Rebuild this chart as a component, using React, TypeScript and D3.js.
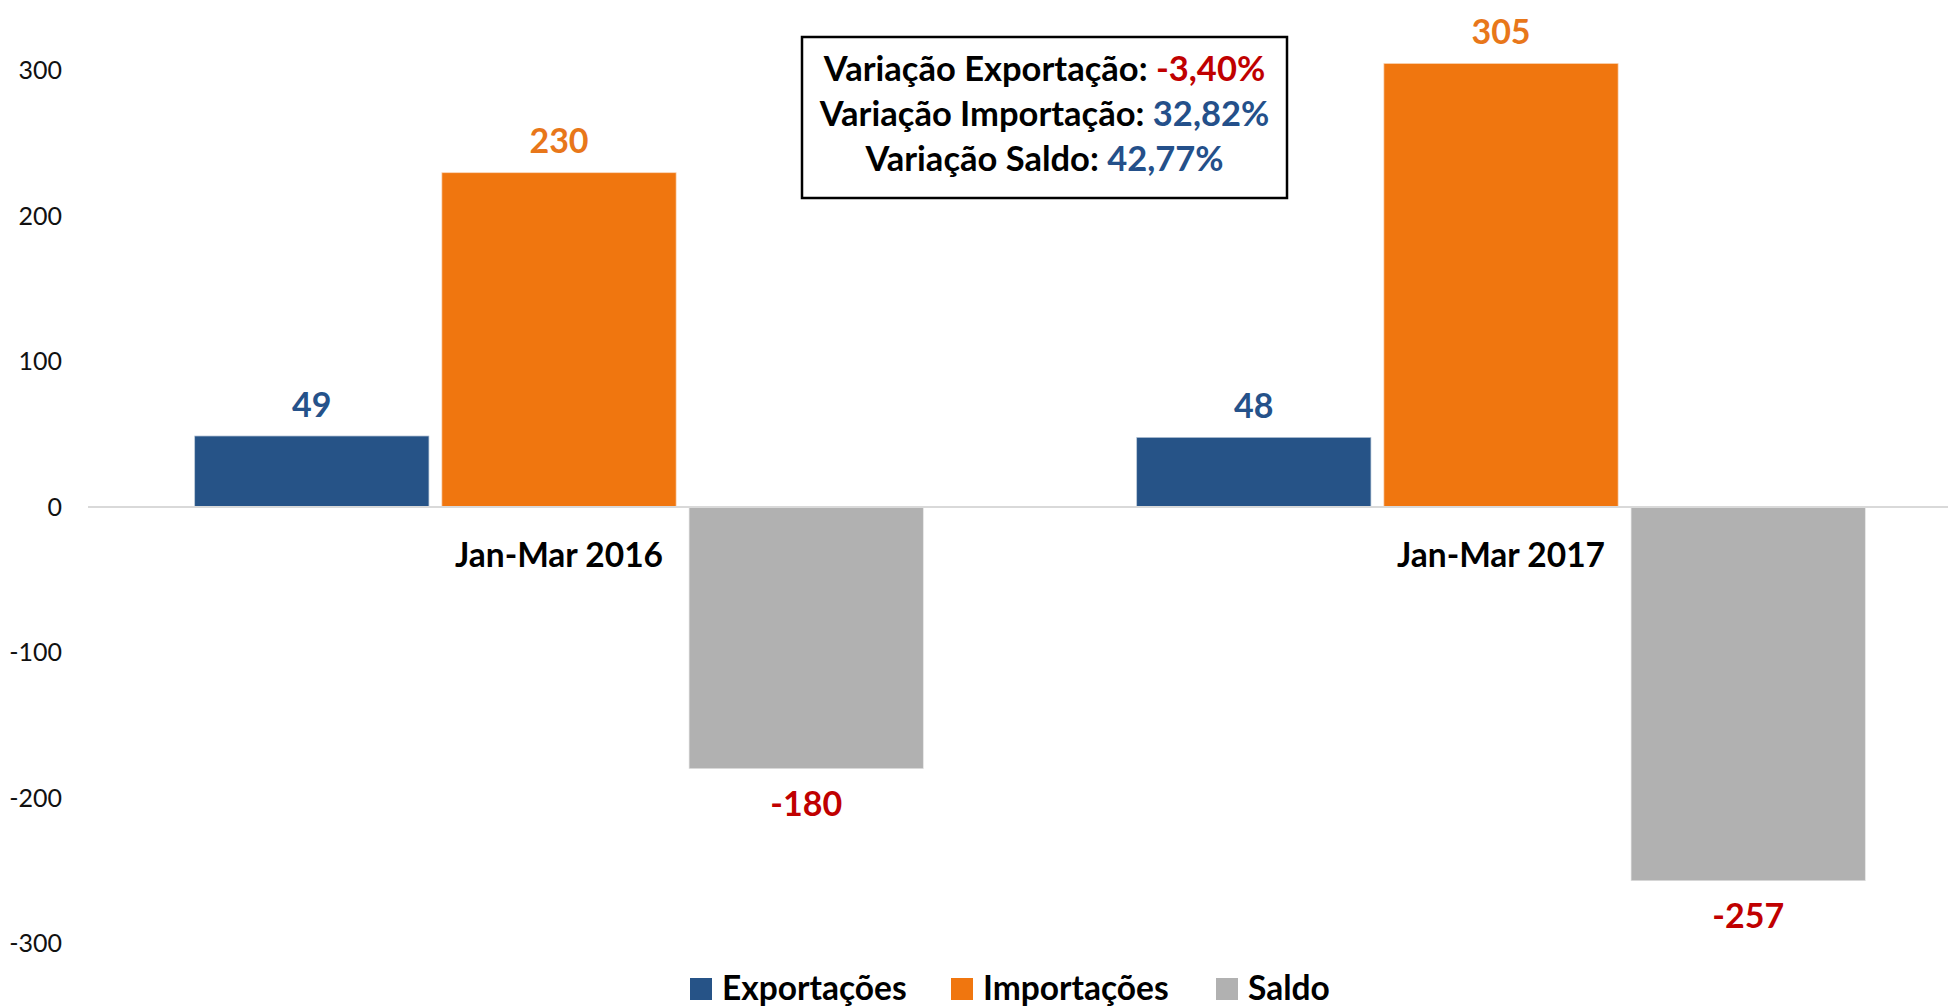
import React, { useEffect } from "react";
import * as d3 from "d3";

const categories = ["Jan-Mar 2016", "Jan-Mar 2017"];
const seriesNames = ["Exportações", "Importações", "Saldo"];
const exportacoes = [49, 48];
const importacoes = [230, 305];
const saldo = [-180, -257];
const yTicks = [-300, -200, -100, 0, 100, 200, 300];
const boxLines = [
  { label: "Variação Exportação: ", value: "-3,40%", negative: true },
  { label: "Variação Importação: ", value: "32,82%", negative: false },
  { label: "Variação Saldo: ", value: "42,77%", negative: false },
];

const W = 1952;
const H = 1007;
const barColors = ["#265387", "#F0760F", "#B1B1B1"];
const labelColors = ["#25528A", "#E8771A", "#C00000"];
const FONT = "Lato, 'Open Sans', sans-serif";

export default function App() {
  useEffect(() => {
    document.body.style.margin = "0";
  }, []);

  const seriesValues = [exportacoes, importacoes, saldo];

  const x0 = d3.scaleBand<string>().domain(categories).range([88, 1972]).padding(0);
  const x1 = d3
    .scaleBand<string>()
    .domain(seriesNames)
    .range([0, x0.bandwidth()])
    .paddingInner(0.05)
    .paddingOuter(0.43);
  const y = d3.scaleLinear().domain([-300, 300]).range([943.5, 70.5]);

  const legendX = [690, 951, 1216];

  return (
    <svg width={W} height={H} style={{ position: "absolute", left: 0, top: 0, background: "#fff" }} fontFamily={FONT}>
      <rect x={0} y={0} width={W} height={H} fill="#fff" />
      {/* y tick labels */}
      {yTicks.map((t) => (
        <text key={t} x={62} y={y(t)} dy="0.35em" textAnchor="end" fontSize={25} fill="#111">
          {t}
        </text>
      ))}
      {/* bars */}
      {categories.map((c, ci) =>
        seriesNames.map((s, si) => {
          const v = seriesValues[si][ci];
          const bx = (x0(c) ?? 0) + (x1(s) ?? 0);
          const top = y(Math.max(0, v));
          const h = Math.abs(y(v) - y(0));
          return (
            <rect
              key={c + s}
              x={bx}
              y={top}
              width={x1.bandwidth()}
              height={h}
              fill={barColors[si]}
              stroke="#ffffff"
              strokeOpacity={0.55}
              strokeWidth={1.5}
            />
          );
        })
      )}
      {/* zero axis line */}
      <line x1={x0.range()[0]} x2={W - 4} y1={y(0)} y2={y(0)} stroke="#D9D9D9" strokeWidth={2} />
      {/* data labels */}
      {categories.map((c, ci) =>
        seriesNames.map((s, si) => {
          const v = seriesValues[si][ci];
          const cx = (x0(c) ?? 0) + (x1(s) ?? 0) + x1.bandwidth() / 2;
          const ly = v >= 0 ? y(v) - 19 : y(v) + 47;
          return (
            <text key={"l" + c + s} x={cx} y={ly} textAnchor="middle" fontSize={34} fontWeight={700} fill={labelColors[si]}>
              {v}
            </text>
          );
        })
      )}
      {/* category labels */}
      {categories.map((c) => (
        <text
          key={"c" + c}
          x={(x0(c) ?? 0) + x0.bandwidth() / 2}
          y={y(0) + 60}
          textAnchor="middle"
          fontSize={33.5}
          fontWeight={700}
          fill="#000"
        >
          {c}
        </text>
      ))}
      {/* annotation box */}
      <rect x={802} y={37} width={485} height={161} fill="#fff" stroke="#000" strokeWidth={2.5} />
      {boxLines.map((l, i) => (
        <text key={"b" + i} x={1044.5} y={81 + i * 45} textAnchor="middle" fontSize={34.5} fontWeight={700} fill="#000">
          <tspan>{l.label}</tspan>
          <tspan fill={l.negative ? "#C00000" : "#24508A"}>{l.value}</tspan>
        </text>
      ))}
      {/* legend */}
      {seriesNames.map((s, i) => (
        <g key={"lg" + s}>
          <rect x={legendX[i]} y={978} width={22} height={22} fill={barColors[i]} />
          <text x={legendX[i] + 32} y={1000} fontSize={33.5} fontWeight={700} fill="#000">
            {s}
          </text>
        </g>
      ))}
    </svg>
  );
}
